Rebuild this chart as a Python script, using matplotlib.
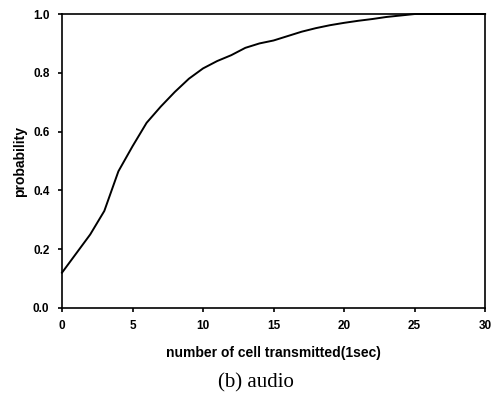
import matplotlib
matplotlib.use("Agg")
import matplotlib.pyplot as plt

# cells transmitted vs cumulative probability (audio)
cells = [0, 1, 2, 3, 4, 5, 6, 7, 8, 9, 10, 11, 12, 13, 14, 15,
         16, 17, 18, 19, 20, 21, 22, 23, 24, 25, 26, 27, 28, 29, 30]
prob = [0.12, 0.185, 0.25, 0.33, 0.465, 0.55, 0.63, 0.685, 0.735, 0.78,
        0.815, 0.84, 0.86, 0.885, 0.90, 0.91, 0.925, 0.94, 0.952, 0.962,
        0.97, 0.977, 0.983, 0.99, 0.995, 1.0, 1.0, 1.0, 1.0, 1.0, 1.0]
xticks = [0, 5, 10, 15, 20, 25, 30]
yticks = [0.0, 0.2, 0.4, 0.6, 0.8, 1.0]

fig = plt.figure(figsize=(4.92, 4.01), dpi=100)
ax = fig.add_axes([0.126, 0.232, 0.86, 0.733])

ax.plot(cells, prob, color="black", lw=1.4, clip_on=False)

ax.set_xlim(0, 30)
ax.set_ylim(0, 1.0)
ax.set_xticks(xticks)
ax.set_yticks(yticks)
ax.set_yticklabels(["%.1f" % v for v in yticks])
ax.tick_params(direction="out", length=3, width=1.2, labelsize=8.5, pad=6)
for lab in ax.get_xticklabels() + ax.get_yticklabels():
	lab.set_fontweight("bold")
	lab.set_family("Liberation Sans")
for s in ax.spines.values():
	s.set_linewidth(1.2)

ax.set_xlabel("number of cell transmitted(1sec)", fontsize=10, fontweight="bold",
	family="Liberation Sans", labelpad=10)
ax.set_ylabel("probability", fontsize=10, fontweight="bold",
	family="Liberation Sans", labelpad=4)

fig.text(0.52, 0.045, "(b) audio", ha="center", va="center", fontsize=15,
	family="Liberation Serif")

fig.savefig("out.png", dpi=100)
